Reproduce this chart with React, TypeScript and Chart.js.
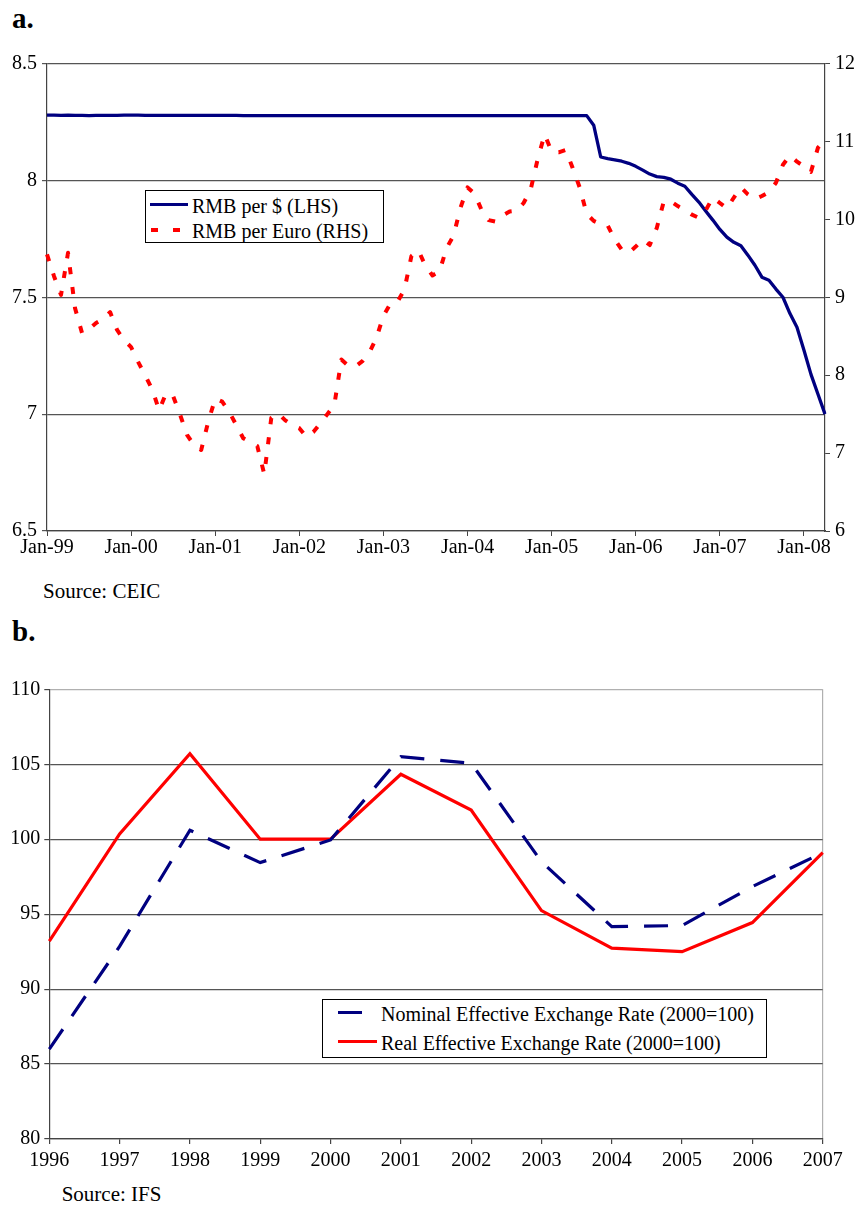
import React, { useEffect, useRef } from "react";
import { Chart, registerables } from "chart.js";

Chart.register(...registerables);

// ---------- Panel a data (monthly, Jan-99 .. Apr-08) ----------
const MONTH_NAMES = ["Jan", "Feb", "Mar", "Apr", "May", "Jun", "Jul", "Aug", "Sep", "Oct", "Nov", "Dec"];
const YEAR_SUFFIXES = ["99", "00", "01", "02", "03", "04", "05", "06", "07", "08"];
const MONTH_COUNT = 112;

const rmbPerUsd = [
  8.279, 8.279, 8.278, 8.279, 8.278, 8.278, 8.277, 8.278, 8.278, 8.278, 8.278, 8.279,
  8.279, 8.279, 8.278, 8.278, 8.278, 8.278, 8.278, 8.278, 8.278, 8.278, 8.278, 8.278,
  8.278, 8.278, 8.278, 8.278, 8.277, 8.277, 8.277, 8.277, 8.277, 8.277, 8.277, 8.277,
  8.277, 8.277, 8.277, 8.277, 8.277, 8.277, 8.277, 8.277, 8.277, 8.277, 8.277, 8.277,
  8.277, 8.277, 8.277, 8.277, 8.277, 8.277, 8.277, 8.277, 8.277, 8.277, 8.277, 8.277,
  8.277, 8.277, 8.277, 8.277, 8.277, 8.277, 8.277, 8.277, 8.277, 8.277, 8.277, 8.277,
  8.277, 8.277, 8.277, 8.277, 8.277,
  8.277, 8.236, 8.100, 8.093, 8.088, 8.082, 8.073,
  8.060, 8.044, 8.027, 8.016, 8.013, 8.005, 7.988, 7.975, 7.940, 7.907, 7.868, 7.830,
  7.790, 7.757, 7.735, 7.720, 7.680, 7.637, 7.586, 7.573, 7.535, 7.500, 7.430, 7.372,
  7.273, 7.170, 7.085, 7.000,
];

const rmbPerEuro = [
  9.55, 9.27, 9.03, 9.57, 8.86, 8.54, 8.59, 8.67, 8.72, 8.81, 8.58, 8.45,
  8.36, 8.17, 8.00, 7.82, 7.55, 7.77, 7.73, 7.49, 7.23, 7.10, 7.04, 7.40,
  7.70, 7.66, 7.53, 7.36, 7.19, 7.14, 7.09, 6.73, 7.45, 7.51, 7.42, 7.36,
  7.32, 7.21, 7.27, 7.38, 7.50, 7.62, 8.20, 8.12, 8.11, 8.18, 8.29, 8.48,
  8.76, 8.92, 8.94, 9.10, 9.53, 9.60, 9.40, 9.28, 9.33, 9.63, 9.79, 10.15,
  10.41, 10.33, 10.12, 9.99, 9.97, 10.05, 10.10, 10.11, 10.21, 10.38, 10.77, 11.09,
  10.87, 10.86, 10.89, 10.66, 10.41, 10.07, 9.98, 9.94, 9.92, 9.74, 9.61, 9.57,
  9.65, 9.74, 9.67, 9.89, 10.23, 10.23, 10.17, 10.12, 10.06, 10.02, 10.12, 10.28,
  10.21, 10.14, 10.28, 10.41, 10.32, 10.26, 10.30, 10.35, 10.47, 10.70, 10.82, 10.74,
  10.68, 10.61, 10.92, 11.02,
];

// ---------- Panel b data (annual) ----------
const years = ["1996", "1997", "1998", "1999", "2000", "2001", "2002", "2003", "2004", "2005", "2006", "2007"];
const neer = [86.0, 92.85, 100.6, 98.44, 99.95, 105.5, 105.07, 98.5, 94.17, 94.24, 96.84, 99.1];
const reer = [93.2, 100.35, 105.7, 100.0, 100.0, 104.33, 101.95, 95.24, 92.73, 92.5, 94.44, 99.1];

const monthLabels = YEAR_SUFFIXES.flatMap((y) => MONTH_NAMES.map((m) => `${m}-${y}`)).slice(0, MONTH_COUNT);

const FONT = "'Liberation Serif', 'Times New Roman', serif";
const NAVY = "#000080";
const RED = "#ff0000";
const GRID = "#555555";
const AXIS = "#444444";
const LIGHT = "#b0b0b0";

const tickFont = { family: FONT, size: 20 };
const plainNumber = (v: any) => `${Number(v)}`;

export default function App() {
  const refA = useRef<HTMLCanvasElement | null>(null);
  const refB = useRef<HTMLCanvasElement | null>(null);

  useEffect(() => {
    const chartA = new Chart(refA.current as HTMLCanvasElement, {
      type: "line",
      data: {
        labels: monthLabels,
        datasets: [
          {
            label: "RMB per Euro (RHS)",
            data: rmbPerEuro,
            yAxisID: "yR",
            borderColor: RED,
            borderWidth: 4,
            borderDash: [7, 13],
            borderCapStyle: "butt",
            borderJoinStyle: "round",
            pointRadius: 0,
            tension: 0,
            order: 0,
          },
          {
            label: "RMB per $ (LHS)",
            data: rmbPerUsd,
            yAxisID: "yL",
            borderColor: NAVY,
            borderWidth: 3.3,
            borderJoinStyle: "round",
            pointRadius: 0,
            tension: 0,
            order: 1,
          },
        ],
      },
      options: {
        responsive: false,
        animation: false,
        events: [],
        layout: { padding: { top: 63.5, left: 0, right: 0, bottom: 0 } },
        plugins: { legend: { display: false }, tooltip: { enabled: false } },
        scales: {
          x: {
            type: "category",
            offset: false,
            afterBuildTicks: (s: any) => {
              s.ticks = s.ticks.filter((t: any) => t.value % 12 === 0);
            },
            afterFit: (s: any) => {
              s.height = 44;
            },
            grid: { drawOnChartArea: false, tickLength: 5, color: AXIS },
            border: { color: AXIS, width: 1.2 },
            ticks: { autoSkip: false, maxRotation: 0, minRotation: 0, color: "#000", font: tickFont, padding: 0 },
          },
          yL: {
            type: "linear",
            position: "left",
            min: 6.5,
            max: 8.5,
            afterFit: (s: any) => {
              s.width = 47;
            },
            grid: { color: GRID, tickLength: 5, lineWidth: 1.2 },
            border: { color: AXIS, width: 1.2 },
            ticks: { stepSize: 0.5, color: "#000", font: tickFont, padding: 5, callback: plainNumber },
          },
          yR: {
            type: "linear",
            position: "right",
            min: 6,
            max: 12,
            afterFit: (s: any) => {
              s.width = 33;
            },
            grid: { drawOnChartArea: false, tickLength: 5, color: AXIS },
            border: { color: AXIS, width: 1.2 },
            ticks: { stepSize: 1, color: "#000", font: tickFont, padding: 5, callback: plainNumber },
          },
        },
      },
    });

    const chartB = new Chart(refB.current as HTMLCanvasElement, {
      type: "line",
      data: {
        labels: years,
        datasets: [
          {
            label: "Nominal Effective Exchange Rate (2000=100)",
            data: neer,
            borderColor: NAVY,
            borderWidth: 3.2,
            borderDash: [24, 16],
            borderCapStyle: "butt",
            pointRadius: 0,
            tension: 0,
            order: 0,
          },
          {
            label: "Real Effective Exchange Rate (2000=100)",
            data: reer,
            borderColor: RED,
            borderWidth: 3.2,
            pointRadius: 0,
            tension: 0,
            order: 1,
          },
        ],
      },
      options: {
        responsive: false,
        animation: false,
        events: [],
        layout: { padding: { top: 89.3, left: 0, right: 35.3, bottom: 0 } },
        plugins: { legend: { display: false }, tooltip: { enabled: false } },
        scales: {
          x: {
            type: "category",
            offset: false,
            afterFit: (s: any) => {
              s.height = 41;
            },
            grid: {
              drawOnChartArea: true,
              tickLength: 5,
              color: (ctx: any) => (ctx.index === years.length - 1 ? LIGHT : "rgba(0,0,0,0)"),
              tickColor: AXIS,
              lineWidth: 1.2,
            },
            border: { color: AXIS, width: 1.2 },
            ticks: { autoSkip: false, maxRotation: 0, minRotation: 0, color: "#000", font: tickFont, padding: 5 },
          },
          y: {
            type: "linear",
            position: "left",
            min: 80,
            max: 110,
            afterFit: (s: any) => {
              s.width = 49.3;
            },
            grid: {
              color: (ctx: any) => (ctx.tick && ctx.tick.value === 110 ? LIGHT : GRID),
              tickColor: AXIS,
              tickLength: 5,
              lineWidth: 1.2,
            },
            border: { color: AXIS, width: 1.2 },
            ticks: { stepSize: 5, color: "#000", font: tickFont, padding: 4, callback: plainNumber },
          },
        },
      },
    });

    return () => {
      chartA.destroy();
      chartB.destroy();
    };
  }, []);

  const abs = (o: React.CSSProperties): React.CSSProperties => ({ position: "absolute", ...o });

  return (
    <div style={abs({ left: 0, top: 0, width: 858, height: 1206, fontFamily: FONT, color: "#000", background: "#fff" })}>
      <div style={abs({ left: 12, top: 3.7, fontSize: 29, lineHeight: "29px", fontWeight: "bold" })}>a.</div>
      <canvas ref={refA} width={858} height={575} style={abs({ left: 0, top: 0, width: 858, height: 575 })} />

      {/* legend a */}
      <div style={abs({ left: 145, top: 190, width: 237, height: 51, border: "1px solid #000", background: "#fff" })} />
      <div style={abs({ left: 150, top: 202.5, width: 38, height: 3.3, background: NAVY })} />
      <div
        style={abs({
          left: 151,
          top: 228,
          width: 37,
          height: 4,
          background: `repeating-linear-gradient(to right, ${RED} 0px, ${RED} 7.5px, transparent 7.5px, transparent 22px)`,
        })}
      />
      <div style={abs({ left: 192, top: 196.3, fontSize: 20, lineHeight: "20px", whiteSpace: "nowrap" })}>RMB per $ (LHS)</div>
      <div style={abs({ left: 192, top: 221.3, fontSize: 20, lineHeight: "20px", whiteSpace: "nowrap" })}>RMB per Euro (RHS)</div>

      <div style={abs({ left: 43, top: 580.5, fontSize: 21, lineHeight: "21px", whiteSpace: "nowrap" })}>Source: CEIC</div>

      <div style={abs({ left: 12, top: 617.4, fontSize: 29, lineHeight: "29px", fontWeight: "bold" })}>b.</div>
      <canvas ref={refB} width={858} height={580} style={abs({ left: 0, top: 600, width: 858, height: 580 })} />

      {/* legend b */}
      <div style={abs({ left: 321.7, top: 999, width: 443.3, height: 56.7, border: "1px solid #000", background: "#fff" })} />
      <div style={abs({ left: 338.3, top: 1011.2, width: 23.4, height: 3.2, background: NAVY })} />
      <div style={abs({ left: 338.3, top: 1040, width: 39, height: 3.4, background: RED })} />
      <div style={abs({ left: 381, top: 1004.3, fontSize: 20, lineHeight: "20px", whiteSpace: "nowrap" })}>
        Nominal Effective Exchange Rate (2000=100)
      </div>
      <div style={abs({ left: 381, top: 1032.6, fontSize: 20, lineHeight: "20px", whiteSpace: "nowrap" })}>
        Real Effective Exchange Rate (2000=100)
      </div>

      <div style={abs({ left: 61.7, top: 1184, fontSize: 21, lineHeight: "21px", whiteSpace: "nowrap" })}>Source: IFS</div>
    </div>
  );
}
